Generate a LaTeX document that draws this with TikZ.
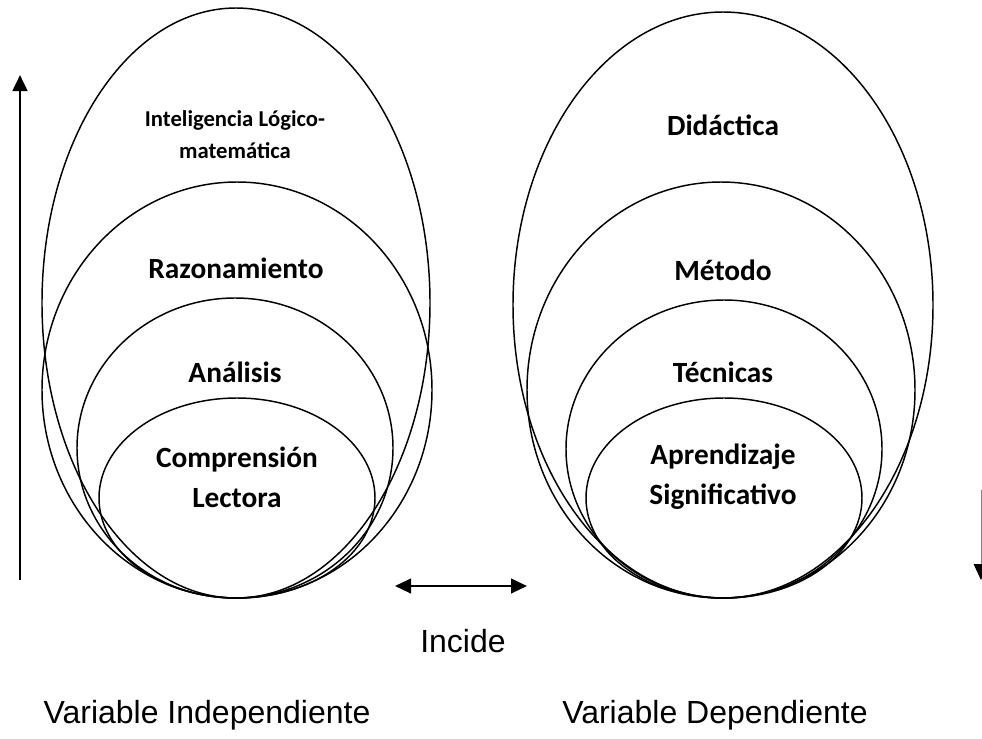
\documentclass[tikz,border=0pt]{standalone}
\usepackage{fontspec}
\setmainfont{Liberation Sans}
\newfontfamily\carlito{Carlito}
\usetikzlibrary{arrows.meta}

\tikzset{
	lbl/.style={font=\carlito\bfseries\fontsize{22}{30}\selectfont, align=center, inner sep=0pt},
	small lbl/.style={font=\carlito\bfseries\fontsize{17}{24}\selectfont, align=center, inner sep=0pt},
	var/.style={font=\fontsize{24}{28}\selectfont, inner sep=0pt, anchor=base},
	>={Triangle[length=12pt, width=11pt]}
}

\begin{document}
\begin{tikzpicture}[x=0.75pt, y=-0.75pt, line width=1.1pt]
				\useasboundingbox (0,0) rectangle (982,739);
				
				% Ellipses
				\draw (236,303) ellipse [x radius=194, y radius=295];
				\draw (237,390) ellipse [x radius=195, y radius=208];
				\draw (235,448) ellipse [x radius=158, y radius=150];
				\draw (237,498) ellipse [x radius=138, y radius=100];
				\draw (723,305) ellipse [x radius=210, y radius=293];
				\draw (721,390) ellipse [x radius=194, y radius=208];
				\draw (724,449) ellipse [x radius=158, y radius=149];
				\draw (724,498) ellipse [x radius=138, y radius=100];
				
				\node (intel) [small lbl] at (235,135) {Inteligencia Lógico-\\matemática};
				\node (razon) [lbl] at (236,268) {Razonamiento};
				\node (analisis) [lbl] at (235,372) {Análisis};
				\node (compr) [lbl] at (237,477) {Comprensión\\Lectora};
				\node (didac) [lbl] at (723,125) {Didáctica};
				\node (metodo) [lbl] at (723,270) {Método};
				\node (tecnicas) [lbl] at (723,372) {Técnicas};
				\node (aprend) [lbl] at (723,477) {Aprendizaje\\Significativo};
				
				\node (incide) [var] at (463,652) {Incide};
				\node (vi) [var] at (207,723) {Variable Independiente};
				\node (vd) [var] at (715,723) {Variable Dependiente};
				
				% Arrows
				\coordinate (up0) at (20,580);
				\coordinate (up1) at (20,75);
				\coordinate (inc0) at (395,586);
				\coordinate (inc1) at (527,586);
				\coordinate (down0) at (981,490);
				\coordinate (down1) at (981,580);
				\draw[->, line width=2pt] (up0) -- (up1);
				\draw[<->, line width=1.6pt] (inc0) -- (inc1);
				\draw[-{Triangle[length=12pt, width=11pt, black]}, line width=0.6pt, draw=gray] (down0) -- (down1);
				
			\end{tikzpicture}
\end{document}
